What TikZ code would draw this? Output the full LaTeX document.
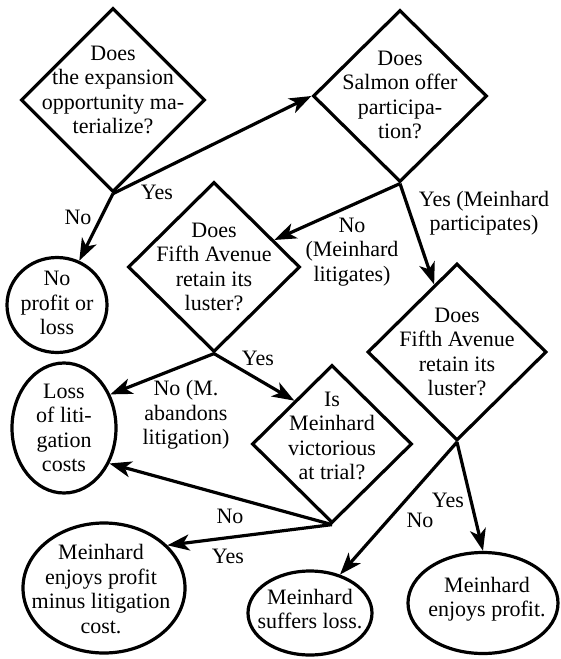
\documentclass[tikz,border=0pt]{standalone}
\usepackage{fontspec}
\setmainfont{Liberation Serif}
\usetikzlibrary{shapes.geometric,arrows.meta}
\begin{document}
\begin{tikzpicture}[x=1pt,y=-1pt,
  every node/.style={font=\fontsize{22}{24.5}\selectfont, align=center, inner sep=0pt},
  decision/.style={diamond, draw, line width=3.2pt, inner sep=0pt},
  outcome/.style={ellipse, draw, line width=3.2pt, inner sep=0pt},
  conn/.style={line width=3.2pt, -{Stealth[length=22pt,width=16pt,inset=6pt]}},
  lbl/.style={}]
\useasboundingbox (0,0) rectangle (560,659);
% decisions
\node[decision, minimum width=184pt, minimum height=184pt,
  label={[yshift=10pt]center:Does\\the expansion\\opportunity ma-\\terialize?}] (d1) at (113,100) {};
\node[decision, minimum width=174pt, minimum height=172pt,
  label={[yshift=1pt]center:Does\\Salmon offer\\participa-\\tion?}] (d2) at (400,96) {};
\node[decision, minimum width=172pt, minimum height=170pt,
  label={center:Does\\Fifth Avenue\\retain its\\luster?}] (d3) at (214,267) {};
\node[decision, minimum width=179pt, minimum height=177pt,
  label={center:Does\\Fifth Avenue\\retain its\\luster?}] (d4) at (457,352) {};
\node[decision, minimum width=160pt, minimum height=158pt,
  label={[yshift=8pt]center:Is\\Meinhard\\victorious\\at trial?}] (d5) at (332,444) {};
% outcomes
\node[outcome, minimum width=100pt, minimum height=95pt,
  label={[yshift=2pt]center:No\\profit or\\loss}] (e1) at (57,305) {};
\node[outcome, minimum width=104pt, minimum height=130pt,
  label={center:Loss\\of liti-\\gation\\costs}] (e2) at (64,428) {};
\node[outcome, minimum width=162pt, minimum height=130pt,
  label={[yshift=-1pt,xshift=-3pt]center:Meinhard\\enjoys profit\\minus litigation\\cost.}] (e3) at (104,588) {};
\node[outcome, minimum width=124pt, minimum height=84pt,
  label={[yshift=4pt]center:Meinhard\\suffers loss.}] (e4) at (310,613) {};
\node[outcome, minimum width=150pt, minimum height=101pt,
  label={[yshift=4pt,xshift=4pt]center:Meinhard\\enjoys profit.}] (e5) at (483,603) {};
% connectors
\draw[conn] (d1.south) -- (d2.west);
\draw[conn] (d1.south) -- (e1);
\draw[conn] (d2.south) -- (d3);
\draw[conn] (d2.south) -- (d4);
\draw[conn] (d3.south) -- (e2.36);
\draw[conn] (d3.south) -- (d5.131);
\draw[conn] (d5.south) -- (e2.-38);
\draw[conn] (d5.south) -- (e3.34);
\draw[conn] (d4.south) -- (e4.52);
\draw[conn] (d4.south) -- (e5.north);
% labels
\node[lbl] (l1y) at (157,192) {Yes};
\node[lbl] (l1n) at (78,217) {No};
\node[lbl] (l2n) at (352,252) {No\\(Meinhard\\litigates)};
\node[lbl] (l2y) at (484,213) {Yes (Meinhard\\participates)};
\node[lbl] (l3y) at (258,358) {Yes};
\node[lbl] (l3n) at (186,415) {No (M.\\abandons\\litigation)};
\node[lbl] (l5n) at (230,516) {No};
\node[lbl] (l5y) at (228,556) {Yes};
\node[lbl] (l4y) at (448,500) {Yes};
\node[lbl] (l4n) at (420,520) {No};
\end{tikzpicture}
\end{document}
